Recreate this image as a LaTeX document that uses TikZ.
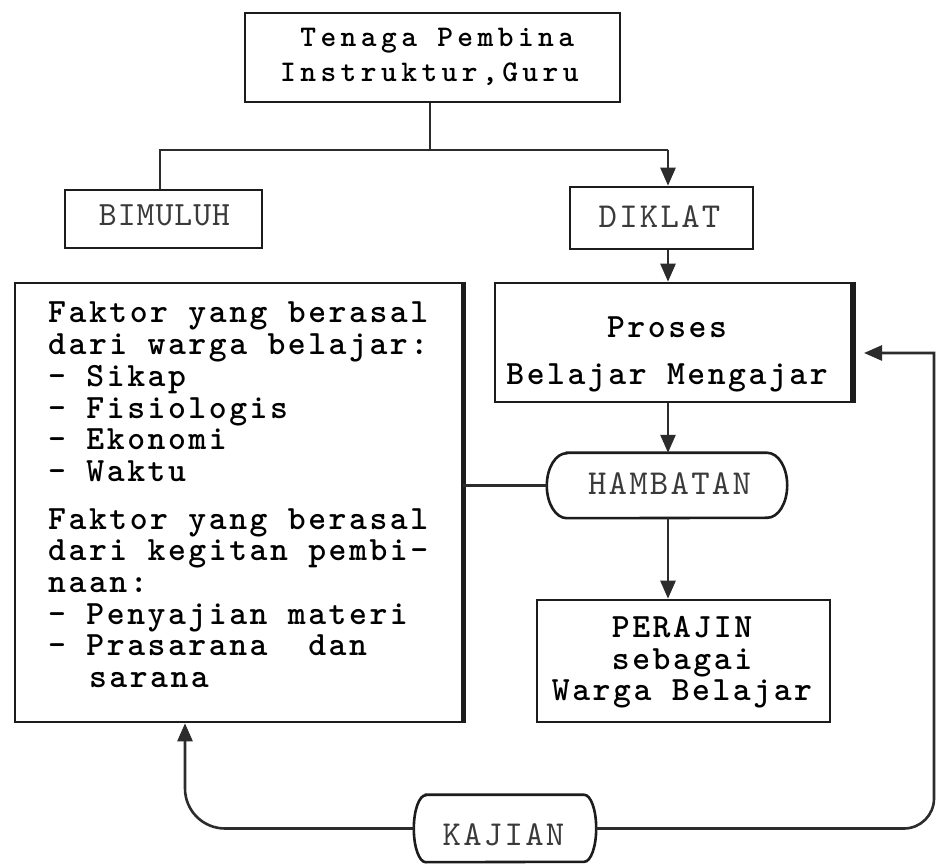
\documentclass[tikz,border=0pt]{standalone}
\usepackage{fontspec}
\usetikzlibrary{arrows.meta}
\newfontfamily\twb{lmmonolt10-bold.otf}[LetterSpace=7.5]
\newfontfamily\twbls{lmmonolt10-bold.otf}[LetterSpace=14.8]
\newfontfamily\twr{lmmono10-regular.otf}[LetterSpace=6.5]
\newfontfamily\twrs{lmmono10-regular.otf}[LetterSpace=3]
\definecolor{ink}{HTML}{1C1C1C}
\definecolor{lineg}{HTML}{2C2C2C}
\definecolor{lighttxt}{HTML}{3A3A3A}
\newcommand\ctrline[1]{\hbox to 0pt{\hss#1\hss}}
\tikzset{
  box/.style={draw=ink, line width=2.6pt, inner sep=0pt},
  term/.style={inner sep=0pt},
  boxline/.style={draw=ink, line width=2.6pt},
  conn/.style={draw=lineg, line width=2.6pt},
  arr/.style={conn, -{Triangle[length=18pt,width=15pt]}},
  txt/.style={inner sep=0pt, text=black, font=\twb\fontsize{34}{31.7}\selectfont},
  ltxt/.style={inner sep=0pt, text=lighttxt, font=\twr\fontsize{35}{35}\selectfont}
}
\begin{document}
\begin{tikzpicture}[x=1pt,y=1pt]
\useasboundingbox (0,0) rectangle (936,864);
\fill[white] (0,0) rectangle (936,864);

% boxes
\node[box, minimum width=375pt, minimum height=89pt] (top) at (432.5,806.5) {};
\node[box, minimum width=197pt, minimum height=58pt] (bim) at (163.5,645) {};
\node[box, minimum width=183pt, minimum height=62pt] (dik) at (661.5,646) {};
\node[box, minimum width=357pt, minimum height=119pt] (pbm) at (673.5,521.5) {};
\node[box, minimum width=447pt, minimum height=439pt] (fak) at (238.5,361.5) {};
\node[box, minimum width=293pt, minimum height=122pt] (per) at (683.5,203) {};
\node[term, minimum width=240pt, minimum height=65pt] (ham) at (667,378.5) {};
\node[term, minimum width=182pt, minimum height=67pt] (kaj) at (505,35.5) {};

% terminal outlines
\draw[boxline] ([xshift=20pt]ham.north west) -- ([xshift=-20pt]ham.north east)
  arc[start angle=90,end angle=-90,x radius=20pt,y radius=32.5pt]
  -- ([xshift=20pt]ham.south west)
  arc[start angle=270,end angle=90,x radius=20pt,y radius=32.5pt] -- cycle;
\draw[boxline] ([xshift=12pt]kaj.north west) -- ([xshift=-12pt]kaj.north east)
  arc[start angle=90,end angle=-90,x radius=12pt,y radius=33.5pt]
  -- ([xshift=12pt]kaj.south west)
  arc[start angle=270,end angle=90,x radius=12pt,y radius=33.5pt] -- cycle;

% thick right edges
\draw[ink, line width=6pt] (pbm.north east) -- (pbm.south east);
\draw[ink, line width=5pt] (fak.north east) -- (fak.south east);

% texts
\node[inner sep=0pt, anchor=base west, font=\twbls\fontsize{30}{35}\selectfont] (toptxt) at (280,817)
  {\vtop{\baselineskip=35pt \hbox{\ Tenaga Pembina}\hbox{Instruktur,Guru}}};
\node[txt, anchor=base west] (faktxt) at (48,541) {\vtop{\baselineskip=31.7pt
  \hbox{Faktor yang berasal}
  \hbox{dari warga belajar:}
  \hbox{– Sikap}
  \hbox{– Fisiologis}
  \hbox{– Ekonomi}
  \hbox{– Waktu}
  \vskip 16pt
  \hbox{Faktor yang berasal}
  \hbox{dari kegitan pembi-}
  \hbox{naan:}
  \hbox{– Penyajian materi}
  \hbox{– Prasarana\ \ dan}
  \hbox{\ \ sarana}}};
\node[txt, anchor=base] (pbmtxt) at (667,526)
  {\vtop{\baselineskip=47pt \ctrline{Proses}\ctrline{Belajar Mengajar}}};
\node[txt, anchor=base] (pertxt) at (682,226)
  {\vtop{\baselineskip=31.5pt \ctrline{PERAJIN}\ctrline{sebagai}\ctrline{Warga Belajar}}};
\node[ltxt, anchor=base, font=\twrs\fontsize{34}{34}\selectfont] (bimtxt) at (164.5,638) {BIMULUH};
\node[ltxt, anchor=base] (diktxt) at (659.5,636) {DIKLAT};
\node[ltxt, anchor=base] (hamtxt) at (669.5,369) {HAMBATAN};
\node[ltxt, anchor=base] (kajtxt) at (503.5,19) {KAJIAN};

% connectors
\coordinate (j) at (430,714);
\coordinate (jl) at (160,714);
\coordinate (jr) at (668,714);
\coordinate (cx) at (668,0);
\draw[conn] (top.south -| j) -- (j);
\draw[conn] (bim.north -| jl) -- (jl) -- (jr);
\draw[arr] (jr) -- (dik.north -| jr);
\draw[arr] (dik.south -| cx) -- (pbm.north -| cx);
\draw[arr] (pbm.south -| cx) -- (ham.north -| cx);
\draw[arr] (ham.south -| cx) -- (per.north -| cx);
\draw[conn] (ham.west) -- (fak.east |- ham.west);

% feedback loop via KAJIAN
\coordinate (lc) at (225,0);
\coordinate (lx) at (185,0);
\coordinate (rc) at (904,0);
\coordinate (rx) at (934,0);
\coordinate (ar) at (864,511);
\draw[arr] (kaj.west) -- (kaj.west -| lc) arc[start angle=270,end angle=180,radius=40pt] -- (lx |- fak.south);
\draw[arr] (kaj.east) -- (kaj.east -| rc) arc[start angle=-90,end angle=0,radius=30pt] -- (rx |- ar) -- (ar);
\end{tikzpicture}
\end{document}
